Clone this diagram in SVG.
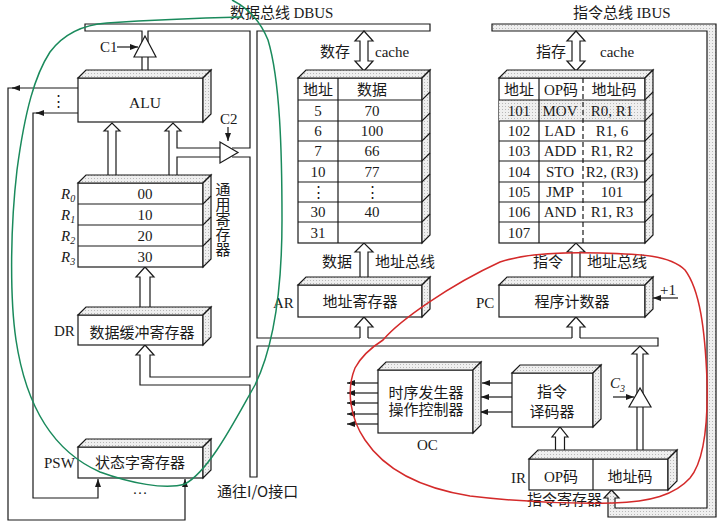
<svg xmlns="http://www.w3.org/2000/svg" width="722" height="526" viewBox="0 0 722 526">
<defs>
<pattern id="tex" width="3" height="3" patternUnits="userSpaceOnUse"><rect width="3" height="3" fill="#efefef"/><rect x="1" y="1" width="1" height="1" fill="#b8b8b8"/></pattern>
<marker id="ah" viewBox="0 0 8 6" refX="8" refY="3" markerWidth="8" markerHeight="6" markerUnits="userSpaceOnUse" orient="auto"><path d="M0,0 L8,3 L0,6 z" fill="#1a1a1a"/></marker>
</defs>
<style>
.ln{fill:none;stroke:#1a1a1a;stroke-width:1.2}
.wf{fill:#fff;stroke:#1a1a1a;stroke-width:1.2}
.box{fill:#fff;stroke:#1a1a1a;stroke-width:1.2}
.face{fill:url(#tex);stroke:#1a1a1a;stroke-width:1.2}
.ar{fill:none;stroke:#1a1a1a;stroke-width:1.2;marker-end:url(#ah)}
.t{font-family:"Liberation Serif","Noto Sans CJK SC",serif;font-size:15px;fill:#1a1a1a}
.m{text-anchor:middle}
.cj{font-family:"Noto Sans CJK SC","Liberation Serif",sans-serif;font-size:15px;fill:#1a1a1a}
</style>
<rect width="722" height="526" fill="#fff"/>

<g id="connectors">
<!-- instruction bus IBUS -->
<path d="M492,24 H716 V517 H608 V498 H604 L611.5,490 L619,498 H615 V508 H707 V31 H492 Z" fill="url(#tex)" stroke="#1a1a1a" stroke-width="1.2"/>
<!-- data bus DBUS -->
<path class="ln" d="M142,42 V31 H85 V24 H430 V31 H257 V338 H360 M368,338 H572 M580,338 H658 V346 H257 V477 H250 V385 H140 V355 H136 L145,345 L154,355 H150 V377 H250 V157 H232 M232,148 H250 V31 H148 V42"/>
<!-- C1 buffer -->
<path class="ln" d="M142,57 V76 M148,57 V76"/>
<polygon class="wf" points="145,36 134,57 156,57"/>
<path class="ar" d="M117,47 H138"/>
<!-- ALU inputs -->
<path class="ln" d="M108,180 V131 H104 L112,123 L120,131 H116 V180"/>
<path class="ln" d="M169,180 V131 H165 L173,123 L181,131 H177 V148 H220 M220,157 H177 V180"/>
<!-- C2 buffer -->
<polygon class="wf" points="220,142 220,163 238,152.5"/>
<path class="ar" d="M228,127 V141"/>
<!-- DR -> registers -->
<path class="ln" d="M140,310 V277 H136 L145,267 L154,277 H150 V310"/>
<!-- ALU flags to PSW -->
<path class="ar" d="M78,88 H12"/>
<path class="ar" d="M14,88 H8 V520 H185 V479"/>
<path class="ar" d="M78,113 H36"/>
<path class="ar" d="M38,113 H33 V498 H98 V479"/>
<!-- data cache -->
<polygon class="wf" points="364,31 373,41 368,41 368,61 373,61 364,71 355,61 360,61 360,41 355,41"/>
<path class="ln" d="M360,282 V252 H355 L364,243 L373,252 H368 V282"/>
<path class="ln" d="M360,338 V327 H355 L364,317 L373,327 H368 V338"/>
<!-- instruction cache -->
<polygon class="wf" points="576,31 585,41 580,41 580,61 585,61 576,71 567,61 572,61 572,41 567,41"/>
<path class="ln" d="M572,282 V252 H567 L576,243 L585,252 H580 V282"/>
<path class="ln" d="M572,338 V327 H567 L576,317 L585,327 H580 V338"/>
<path class="ar" d="M678,298 H653"/>
<!-- IR address -> bus via C3 -->
<path class="ln" d="M637,456 V407 M643,407 V456"/>
<path class="ln" d="M637,400 V354 H632 L640,346 L648,354 H643 V400"/>
<polygon class="wf" points="640,388 629,407 651,407"/>
<path class="ar" d="M613,397 H634"/>
<!-- IR opcode -> decoder -->
<path class="ln" d="M555.5,456 V437 H552 L560,427 L568,437 H564.5 V456"/>
<!-- decoder -> OC -->
<path class="ar" d="M512,383 H482"/>
<path class="ar" d="M512,397 H481"/>
<path class="ar" d="M512,412 H480"/>
<!-- OC control outputs -->
<path class="ar" d="M378,383 H347"/>
<path class="ar" d="M378,393 H347"/>
<path class="ar" d="M378,403 H347"/>
<path class="ar" d="M378,414 H347"/>
<path class="ar" d="M378,424 H347"/>
</g>

<g id="alu">
<rect class="box" x="78" y="78" width="125" height="44"/>
<polygon class="face" points="78,78 86,70 211,70 203,78"/>
<polygon class="face" points="203,78 211,70 211,114 203,122"/>
<text class="t m" x="145" y="108" font-size="17" textLength="32" lengthAdjust="spacingAndGlyphs">ALU</text>
<text class="t m" x="58" y="106" font-family="DejaVu Sans" font-size="14">⋮</text>
</g>

<g id="registers">
<rect class="box" x="78" y="183" width="125" height="84"/>
<polygon class="face" points="78,183 86,175 211,175 203,183"/>
<polygon class="face" points="203,183 211,175 211,259 203,267"/>
<path class="ln" d="M78,204 H203 L211,196 M78,225 H203 L211,217 M78,246 H203 L211,238"/>
<text class="t m" x="145" y="199">00</text>
<text class="t m" x="145" y="220">10</text>
<text class="t m" x="145" y="241">20</text>
<text class="t m" x="145" y="262">30</text>
<text class="t" x="61" y="199" font-style="italic">R<tspan font-size="10" dy="3">0</tspan></text>
<text class="t" x="61" y="220" font-style="italic">R<tspan font-size="10" dy="3">1</tspan></text>
<text class="t" x="61" y="241" font-style="italic">R<tspan font-size="10" dy="3">2</tspan></text>
<text class="t" x="61" y="262" font-style="italic">R<tspan font-size="10" dy="3">3</tspan></text>
<text class="cj" x="223" y="182" style="writing-mode:vertical-rl">通用寄存器</text>
</g>

<g id="dr">
<rect class="box" x="78" y="315" width="125" height="30"/>
<polygon class="face" points="78,315 86,307 211,307 203,315"/>
<polygon class="face" points="203,315 211,307 211,337 203,345"/>
<text class="cj m" x="142" y="338">数据缓冲寄存器</text>
<text class="t" x="54" y="336">DR</text>
</g>

<g id="psw">
<rect class="box" x="78" y="447" width="125" height="31"/>
<polygon class="face" points="78,447 86,439 211,439 203,447"/>
<polygon class="face" points="203,447 211,439 211,470 203,478"/>
<text class="cj m" x="140" y="468">状态字寄存器</text>
<text class="t" x="44" y="468">PSW</text>
<text class="t m" x="140" y="494">…</text>
</g>

<g id="data-cache">
<rect class="box" x="298" y="78" width="124" height="165"/>
<polygon class="face" points="298,78 306,70 430,70 422,78"/>
<polygon class="face" points="422,78 430,70 430,235 422,243"/>
<path class="ln" d="M298,100 H422 L430,92 M298,121 H422 L430,113 M298,141 H422 L430,133 M298,161 H422 L430,153 M298,182 H422 L430,174 M298,202 H422 L430,194 M298,222 H422 L430,214 M338,78 V243"/>
<text class="cj m" x="318" y="95">地址</text>
<text class="cj m" x="372" y="95">数据</text>
<text class="t m" x="318" y="116">5</text><text class="t m" x="372" y="116">70</text>
<text class="t m" x="318" y="136">6</text><text class="t m" x="372" y="136">100</text>
<text class="t m" x="318" y="156">7</text><text class="t m" x="372" y="156">66</text>
<text class="t m" x="318" y="177">10</text><text class="t m" x="372" y="177">77</text>
<text class="t m" x="318" y="197" font-family="DejaVu Sans" font-size="13">⋮</text><text class="t m" x="372" y="197" font-family="DejaVu Sans" font-size="13">⋮</text>
<text class="t m" x="318" y="217">30</text><text class="t m" x="372" y="217">40</text>
<text class="t m" x="318" y="238">31</text>
<text class="cj" x="320" y="57">数存</text>
<text class="t" x="375" y="57">cache</text>
</g>

<g id="instr-cache">
<rect class="box" x="499" y="78" width="146" height="165"/>
<rect x="499" y="100" width="146" height="21" fill="url(#tex)"/>
<polygon class="face" points="499,78 507,70 653,70 645,78"/>
<polygon class="face" points="645,78 653,70 653,235 645,243"/>
<path class="ln" d="M499,100 H645 L653,92 M499,121 H645 L653,113 M499,141 H645 L653,133 M499,161 H645 L653,153 M499,182 H645 L653,174 M499,202 H645 L653,194 M499,222 H645 L653,214 M539,78 V243"/>
<path class="ln" d="M583,78 V243" stroke-dasharray="5,3"/>
<text class="cj m" x="519" y="95">地址</text>
<text class="t m" x="561" y="95">OP码</text>
<text class="cj m" x="614" y="95">地址码</text>
<text class="t m" x="519" y="116">101</text><text class="t m" x="560" y="116">MOV</text><text class="t m" x="612" y="116">R0, R1</text>
<text class="t m" x="519" y="136">102</text><text class="t m" x="560" y="136">LAD</text><text class="t m" x="612" y="136">R1, 6</text>
<text class="t m" x="519" y="156">103</text><text class="t m" x="560" y="156">ADD</text><text class="t m" x="612" y="156">R1, R2</text>
<text class="t m" x="519" y="177">104</text><text class="t m" x="560" y="177">STO</text><text class="t m" x="612" y="177">R2, (R3)</text>
<text class="t m" x="519" y="197">105</text><text class="t m" x="560" y="197">JMP</text><text class="t m" x="612" y="197">101</text>
<text class="t m" x="519" y="217">106</text><text class="t m" x="560" y="217">AND</text><text class="t m" x="612" y="217">R1, R3</text>
<text class="t m" x="519" y="238">107</text>
<text class="cj" x="536" y="57">指存</text>
<text class="t" x="600" y="57">cache</text>
</g>

<g id="ar">
<rect class="box" x="298" y="285" width="124" height="32"/>
<polygon class="face" points="298,285 306,277 430,277 422,285"/>
<polygon class="face" points="422,285 430,277 430,309 422,317"/>
<text class="cj m" x="360" y="307">地址寄存器</text>
<text class="t" x="273" y="308">AR</text>
<text class="cj" x="322" y="267">数据</text>
<text class="cj" x="375" y="267">地址总线</text>
</g>

<g id="pc">
<rect class="box" x="499" y="285" width="146" height="32"/>
<polygon class="face" points="499,285 507,277 653,277 645,285"/>
<polygon class="face" points="645,285 653,277 653,309 645,317"/>
<text class="cj m" x="572" y="307">程序计数器</text>
<text class="t" x="476" y="308">PC</text>
<text class="cj" x="533" y="267">指令</text>
<text class="cj" x="587" y="267">地址总线</text>
<text class="t" x="660" y="295">+1</text>
</g>

<g id="oc">
<rect class="box" x="378" y="370" width="95" height="63"/>
<polygon class="face" points="378,370 386,362 481,362 473,370"/>
<polygon class="face" points="473,370 481,362 481,425 473,433"/>
<text class="cj m"><tspan x="426" y="398">时序发生器</tspan><tspan x="426" y="415">操作控制器</tspan></text>
<text class="t" x="417" y="450">OC</text>
</g>

<g id="decoder">
<rect class="box" x="512" y="373" width="81" height="54"/>
<polygon class="face" points="512,373 520,365 601,365 593,373"/>
<polygon class="face" points="593,373 601,365 601,419 593,427"/>
<text class="cj m" font-size="16"><tspan x="552" y="397">指令</tspan><tspan x="552" y="417">译码器</tspan></text>
</g>

<g id="ir">
<rect class="box" x="529" y="459" width="139" height="31"/>
<polygon class="face" points="529,459 538,450 677,450 668,459"/>
<polygon class="face" points="668,459 677,450 677,481 668,490"/>
<path class="ln" d="M593,459 V490"/>
<text class="t m" x="561" y="482">OP码</text>
<text class="cj m" x="630" y="482">地址码</text>
<text class="t" x="511" y="483">IR</text>
<text class="cj" x="527" y="505" font-size="14">指令寄存器</text>
<text class="t" x="610" y="388" font-style="italic">C<tspan font-size="10" dy="4">3</tspan></text>
</g>

<g id="labels">
<text class="cj" x="230" y="18">数据总线 <tspan font-family="Liberation Serif">DBUS</tspan></text>
<text class="cj" x="573" y="18">指令总线 <tspan font-family="Liberation Serif">IBUS</tspan></text>
<text class="t" x="100" y="52">C1</text>
<text class="t" x="220" y="124">C2</text>
<text class="cj" x="217" y="497" font-size="14">通往I/O接口</text>
</g>

<g id="annotations" fill="none" stroke-width="1.5">
<path stroke="#1a8a5c" d="M242,17 C200,18 150,20 107,23 C80,25 62,36 50,52 C35,75 25,110 17,170 C10,230 10,300 16,340 C25,400 50,450 100,472 C130,483 165,490 185,484 C210,470 235,420 255,385 C272,350 282,300 282,220 C282,150 280,80 268,40 C260,20 248,8 232,0"/>
<path stroke="#d42a2a" d="M383,340 C400,320 450,285 500,262 C530,252 570,252 600,253 C640,254 670,255 685,270 C700,290 705,330 707,380 C708,420 705,460 690,478 C675,495 650,502 613,503 C570,504 520,502 470,496 C420,488 385,470 365,440 C350,418 346,390 355,368 C362,355 372,347 383,340 Z"/>
</g>
</svg>
